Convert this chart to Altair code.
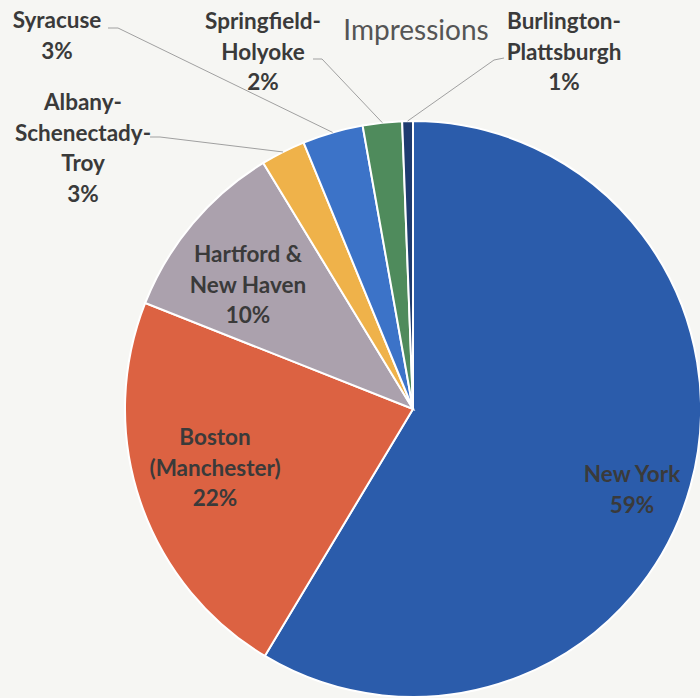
import altair as alt
import pandas as pd
import numpy as np

# ---- data ----
categories = ["New York", "Boston (Manchester)", "Hartford & New Haven",
              "Albany-Schenectady-Troy", "Syracuse", "Springfield-Holyoke",
              "Burlington-Plattsburgh"]
shares = [58.6, 22.4, 10.3, 2.5, 3.4, 2.2, 0.6]
pct_labels = ["59%", "22%", "10%", "3%", "3%", "2%", "1%"]
label_lines = [["New York"], ["Boston", "(Manchester)"], ["Hartford &", "New Haven"],
               ["Albany-", "Schenectady-", "Troy"], ["Syracuse"],
               ["Springfield-", "Holyoke"], ["Burlington-", "Plattsburgh"]]
colors = ["#2b5cab", "#dc6242", "#aba1ad", "#efb24a", "#3c73c8", "#4f8b5c", "#1e3b70"]

# ---- layout (pixels) ----
CX, CY, R = 413, 409, 288
LINE_H = 30.5
FONT = "Lato"
label_anchor = [(632, 475), (215, 438), (248, 255), (83, 103), (57, 21), (263, 22), (564, 22)]
leader_start = {3: [(150, 137), (160, 137)], 4: [(108, 28), (118, 28)],
                5: [(313, 59), (322, 59)], 6: [(504, 58), (494, 60)]}

df = pd.DataFrame({"category": categories, "share": shares, "order": range(len(categories))})

# label rows
rows = []
for i, cat in enumerate(categories):
    lines = label_lines[i] + [pct_labels[i]]
    x0, y0 = label_anchor[i]
    for j, t in enumerate(lines):
        rows.append({"text": t, "x": x0, "y": y0 + j * LINE_H})
labels = pd.DataFrame(rows)

# leader lines: from label to slice mid-angle on the rim
cum = np.cumsum(shares)
mid = (cum - np.array(shares) / 2) / 100 * 2 * np.pi
lrows = []
for i, pts in leader_start.items():
    ex = CX + R * np.sin(mid[i])
    ey = CY - R * np.cos(mid[i])
    allp = pts + [(ex, ey)]
    for k, (px, py) in enumerate(allp):
        lrows.append({"key": categories[i], "k": k, "x": px, "y": py})
leaders = pd.DataFrame(lrows)

pie = alt.Chart(df).mark_arc(outerRadius=R, stroke="white", strokeWidth=2).encode(
    theta=alt.Theta("share:Q", stack=True),
    order=alt.Order("order:Q", sort="ascending"),
    color=alt.Color("category:N", scale=alt.Scale(domain=categories, range=colors), legend=None),
    x=alt.value(CX), y=alt.value(CY),
)

lead = alt.Chart(leaders).mark_line(color="#a0a0a0", strokeWidth=1).encode(
    x=alt.X("x:Q", scale=None), y=alt.Y("y:Q", scale=None),
    detail="key:N", order="k:Q",
)

txt = alt.Chart(labels).mark_text(font=FONT, fontSize=22.5, fontWeight="bold",
                                  color="#3a3a3a", baseline="middle", align="center").encode(
    x=alt.X("x:Q", scale=None), y=alt.Y("y:Q", scale=None), text="text:N",
)

title = alt.Chart(pd.DataFrame({"t": ["Impressions"]})).mark_text(
    font=FONT, fontSize=28, color="#555555", baseline="middle", align="center"
).encode(x=alt.value(416), y=alt.value(32), text="t:N")

chart = alt.layer(pie, lead, txt, title).properties(
    width=700, height=698, autosize=alt.AutoSizeParams(type="none"), padding=0,
    background="#f6f6f3",
).configure_view(stroke=None)

chart.save("out.html", embed_options={"renderer": "svg", "actions": False})
